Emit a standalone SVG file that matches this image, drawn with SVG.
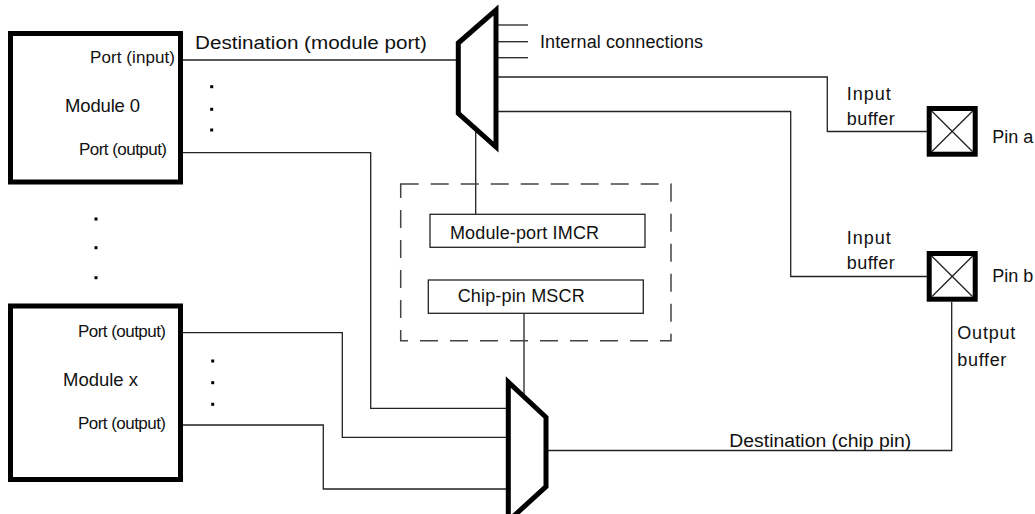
<svg xmlns="http://www.w3.org/2000/svg" width="1035" height="514" viewBox="0 0 1035 514">
<style>
text{font-family:"Liberation Sans",Arial,Helvetica,sans-serif;font-size:18px;fill:#111}
text.port{font-size:17px}
text.mod{font-size:18.5px}
.thick{fill:#fff;stroke:#000;stroke-width:5;stroke-linejoin:miter}
.box{fill:#fff;stroke:#222;stroke-width:1.3}
.wire{fill:none;stroke:#222;stroke-width:1.3}
.dash{fill:none;stroke:#444;stroke-width:1.5;stroke-dasharray:18 12}
.dot{fill:#000}
</style>
<rect width="1035" height="514" fill="#fff"/>
<g id="connectors">
<polyline class="wire" points="183,60 458,60"/>
<polyline class="wire" points="183,152.7 370.7,152.7 370.7,408.3 508,408.3"/>
<polyline class="wire" points="183,332.7 342.3,332.7 342.3,437.3 508,437.3"/>
<polyline class="wire" points="183,425 323.3,425 323.3,489 508,489"/>
<line class="wire" x1="496" y1="25" x2="528" y2="25"/>
<line class="wire" x1="496" y1="41.7" x2="528" y2="41.7"/>
<line class="wire" x1="496" y1="57.7" x2="528" y2="57.7"/>
<polyline class="wire" points="496,77 827.3,77 827.3,131.5 927,131.5"/>
<polyline class="wire" points="496,111.5 790.7,111.5 790.7,276.5 927,276.5"/>
<line class="wire" x1="475.7" y1="129" x2="475.7" y2="214.3"/>
<line class="wire" x1="524" y1="313.3" x2="524" y2="397"/>
<polyline class="wire" points="546,450.5 951.7,450.5 951.7,301.7"/>
</g>
<g id="module0">
<rect class="thick" x="10.5" y="33.5" width="170" height="148.5"/>
<text class="port" x="90" y="63" textLength="85">Port (input)</text>
<text class="mod" x="65" y="112" textLength="75">Module 0</text>
<text class="port" x="79" y="155" textLength="88">Port (output)</text>
</g>
<g id="module0-dots">
<rect class="dot" x="210.2" y="85.2" width="3" height="3"/>
<rect class="dot" x="210.2" y="107.8" width="3" height="3"/>
<rect class="dot" x="210.2" y="128.5" width="3" height="3"/>
</g>
<g id="module-dots">
<rect class="dot" x="94.5" y="217.5" width="3" height="3"/>
<rect class="dot" x="94.5" y="246.2" width="3" height="3"/>
<rect class="dot" x="94.5" y="276.2" width="3" height="3"/>
</g>
<g id="modulex">
<rect class="thick" x="10.5" y="306" width="170" height="173.5"/>
<text class="port" x="78" y="336.5" textLength="88">Port (output)</text>
<text class="mod" x="63" y="386" textLength="75">Module x</text>
<text class="port" x="78" y="428.5" textLength="88">Port (output)</text>
</g>
<g id="modulex-dots">
<rect class="dot" x="211.2" y="359.5" width="3" height="3"/>
<rect class="dot" x="211.2" y="381.2" width="3" height="3"/>
<rect class="dot" x="211.2" y="402.8" width="3" height="3"/>
</g>
<g id="mux-module-port">
<polygon class="thick" points="458.3,43 496,10 496,147 458.3,113.3"/>
</g>
<text id="internal-label" x="540" y="48" textLength="163">Internal connections</text>
<text id="dest-module-label" x="195" y="49" textLength="232" lengthAdjust="spacingAndGlyphs">Destination (module port)</text>
<g id="config-registers">
<rect class="dash" x="400.7" y="184" width="270.3" height="156.7"/>
<g id="imcr">
<rect class="box" x="430" y="214.3" width="215" height="33"/>
<text x="450" y="239" textLength="149">Module-port IMCR</text>
</g>
<g id="mscr">
<rect class="box" x="428.3" y="280" width="215" height="33.3"/>
<text x="457.7" y="302.3" textLength="127">Chip-pin MSCR</text>
</g>
</g>
<g id="mux-chip-pin">
<polygon class="thick" points="508.3,382 546,417.3 546,486.7 508.3,521"/>
</g>
<text id="dest-chip-label" x="729.3" y="446.7" textLength="182" lengthAdjust="spacingAndGlyphs">Destination (chip pin)</text>
<g id="pin-a">
<rect class="thick" x="929.2" y="108.5" width="46" height="45.7"/>
<path class="wire" d="M931.7,111 L972.7,151.7 M972.7,111 L931.7,151.7"/>
<text x="846.7" y="100" textLength="44">Input</text>
<text x="846.7" y="125" textLength="48">buffer</text>
<text x="992.3" y="143.3">Pin a</text>
</g>
<g id="pin-b">
<rect class="thick" x="929.2" y="253.5" width="46" height="45.7"/>
<path class="wire" d="M931.7,256 L972.7,296.7 M972.7,256 L931.7,296.7"/>
<text x="846.7" y="244" textLength="44">Input</text>
<text x="846.7" y="269.3" textLength="48">buffer</text>
<text x="992.3" y="281.7">Pin b</text>
<text x="957.3" y="339" textLength="58">Output</text>
<text x="957.3" y="365.7" textLength="49">buffer</text>
</g>
</svg>
